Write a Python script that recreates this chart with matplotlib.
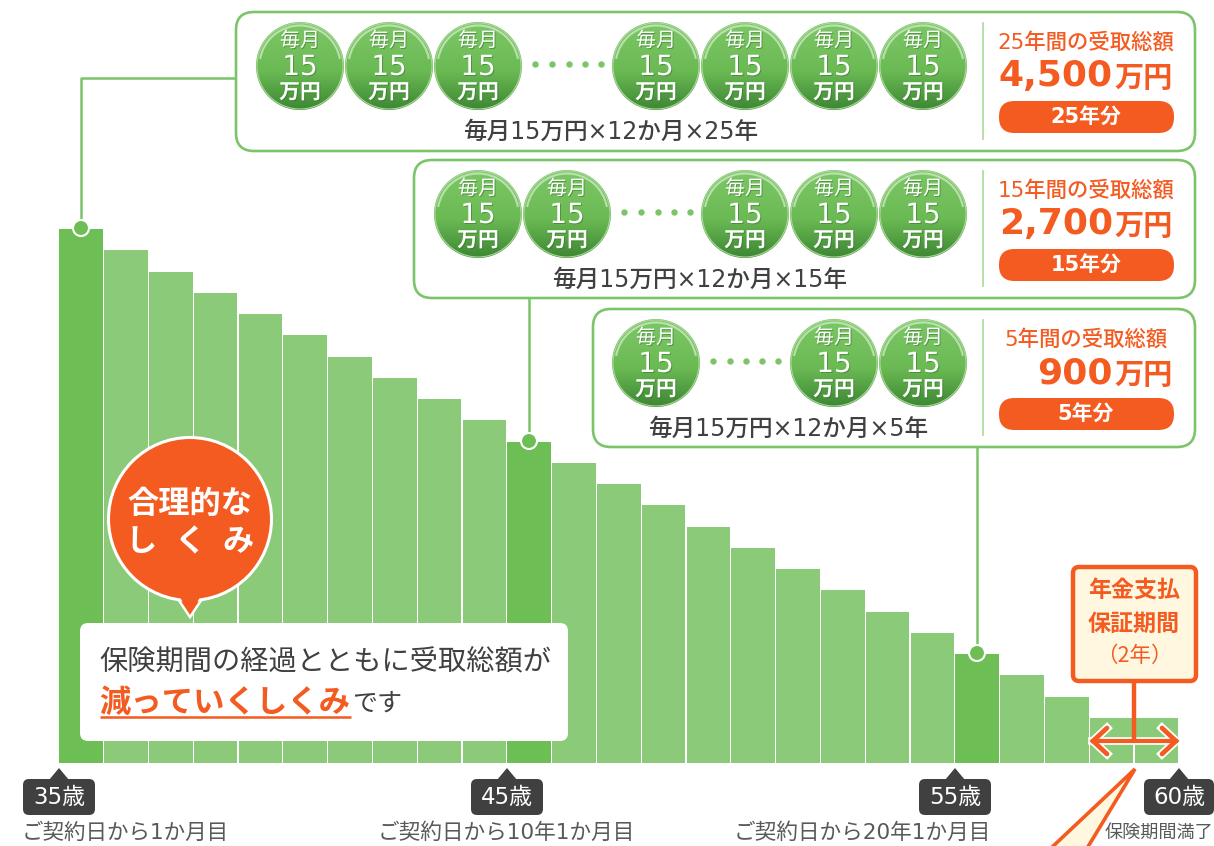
import numpy as np
from matplotlib import pyplot as plt
from matplotlib import patheffects as pe
from matplotlib.patches import Circle, FancyBboxPatch, Polygon, Ellipse, Arc

plt.rcParams['font.family'] = ['Noto Sans CJK JP', 'DejaVu Sans']
# wide latin digits first, kana and kanji fall through to the CJK family
DIGIT_FONT = ['DejaVu Sans', 'Noto Sans CJK JP']

W, H = 1214, 846

# received total (man-yen) left for each contract year
bar_values = [4500, 4320, 4140, 3960, 3780, 3600, 3420, 3240, 3060, 2880, 2700, 2520, 2340,
              2160, 1980, 1800, 1620, 1440, 1260, 1080, 900, 720, 540, 360, 360]
highlight_bars = [0, 10, 20]

plan_years = ["25", "15", "5"]
plan_totals = ["4,500", "2,700", "900"]
age_labels = ["35歳", "45歳", "55歳", "60歳"]
age_notes = ["ご契約日から1か月目", "ご契約日から10年1か月目", "ご契約日から20年1か月目", "保険期間満了"]

GREEN_LINE = "#7CC46A"
DARK_BAR = "#6DBE54"
LIGHT_BAR = "#8BCA78"
ORANGE = "#F45B21"
CREAM = "#FFF7DF"
DARK = "#404040"
GREY = "#595959"

fig = plt.figure(figsize=(W / 100, H / 100), dpi=100)

# bars get their own axes, everything else sits on a pixel-sized overlay
base_y, top_y = 763, 229
ax = fig.add_axes([59 / W, 1 - base_y / H, 1120 / W, (base_y - top_y) / H])
ax.set_xlim(-0.5, len(bar_values) - 0.5)
ax.set_ylim(-22, 4500)
ax.axis("off")
colors = [DARK_BAR if i in highlight_bars else LIGHT_BAR for i in range(len(bar_values))]
ax.bar(np.arange(len(bar_values)) - 0.005, np.array(bar_values) + 22, bottom=-22, width=0.97, color=colors, linewidth=0)

ov = fig.add_axes([0, 0, 1, 1])
ov.patch.set_alpha(0)
ov.axis("off")

grad = np.zeros((100, 1, 3))
stops = np.array([[0.49, 0.78, 0.40], [0.42, 0.73, 0.33], [0.24, 0.53, 0.20]])
for i in range(100):
    t = i / 99
    if t < 0.55:
        grad[i, 0] = stops[0] + (stops[1] - stops[0]) * t / 0.55
    else:
        grad[i, 0] = stops[1] + (stops[2] - stops[1]) * (t - 0.55) / 0.45

shadow = [pe.withSimplePatchShadow(offset=(0.7, -0.7), shadow_rgbFace="#2f6b26", alpha=0.5)]


def rbox(x0, y0, x1, y1, r, **kw):
    p = FancyBboxPatch((x0 + r, y0 + r), x1 - x0 - 2 * r, y1 - y0 - 2 * r,
                       boxstyle="round,pad=%f,rounding_size=%f" % (r, r), **kw)
    ov.add_patch(p)
    return p


def coin(cx, cy, r=44):
    im = ov.imshow(grad, extent=[cx - r, cx + r, cy + r, cy - r], aspect="auto", zorder=3, interpolation="bilinear")
    im.set_clip_path(Circle((cx, cy), r, transform=ov.transData))
    ov.add_patch(Circle((cx, cy), r - 1, fc="none", ec="#A9D99A", lw=0.8, zorder=4))
    ov.add_patch(Arc((cx, cy), 2 * r - 7, 2 * r - 7, theta1=190, theta2=350, ec="#D8EED0", lw=1.5, alpha=0.7, zorder=4))
    ov.text(cx, cy - 25, "毎月", color="white", fontsize=14.5, ha="center", va="center", zorder=5,
            path_effects=shadow)
    ov.text(cx, cy + 1, "15", color="white", fontsize=20, ha="center", va="center", zorder=5, family=DIGIT_FONT,
            path_effects=shadow)
    ov.text(cx, cy + 26, "万円", color="white", fontsize=15, ha="center", va="center", zorder=5, fontweight="bold",
            path_effects=shadow)


def plan(x0, y0, y1, coins, dots, year, total, note_x):
    rbox(x0, y0, 1195, y1, 18, fc="white", ec=GREEN_LINE, lw=1.9, zorder=2)
    ov.plot([983, 983], [y0 + 11, y1 - 12], color="#A9D99A", lw=1.2, zorder=3)
    mid = y0 + 54
    for cx in coins:
        coin(cx, mid)
    ov.plot(dots, [mid - 2] * len(dots), "o", color=GREEN_LINE, ms=4.6, mew=0, zorder=3)
    ov.text(note_x, y0 + 120, "毎月15万円×12か月×%s年" % year, color=DARK, fontsize=17,
            ha="center", va="center", zorder=3, fontweight="medium", family=DIGIT_FONT)
    ov.text(1086, y0 + 30, "%s年間の受取総額" % year, color=ORANGE, fontsize=15.4, ha="center", va="center",
            zorder=3, fontweight="medium", family=DIGIT_FONT)
    ov.text(1113, y0 + 64, total, color=ORANGE, fontsize=26, ha="right", va="center", zorder=3,
            fontweight="bold", family=DIGIT_FONT)
    ov.text(1173, y0 + 66, "万円", color=ORANGE, fontsize=21, ha="right", va="center", zorder=3,
            fontweight="bold")
    rbox(999, y0 + 89, 1174, y0 + 121, 15.5, fc=ORANGE, ec="none", zorder=3)
    ov.text(1086, y0 + 105, "%s年分" % year, color="white", fontsize=15, ha="center", va="center", zorder=4,
            fontweight="bold", family=DIGIT_FONT)


# leader lines from the plan boxes down to the bars
ov.plot([236, 81, 81], [78, 78, 228], color=GREEN_LINE, lw=1.8, zorder=1)
ov.plot([529, 529], [298, 441], color=GREEN_LINE, lw=1.8, zorder=1)
ov.plot([977, 977], [447, 653], color=GREEN_LINE, lw=1.8, zorder=1)
for x, y in [(81, 228), (529, 441), (977, 653)]:
    ov.add_patch(Circle((x, y), 8, fc=DARK_BAR, ec="white", lw=1.5, zorder=2))

plan(236, 12, 151, [300, 389, 478, 656, 745, 834, 923], [535, 552, 569, 585, 601], plan_years[0], plan_totals[0], 611)
plan(414, 160, 298, [478, 567, 745, 834, 923], [624, 641, 658, 674, 690], plan_years[1], plan_totals[1], 700)
plan(593, 309, 447, [656, 834, 923], [713, 730, 746, 762, 778], plan_years[2], plan_totals[2], 788)

# speech bubble and the white message box
ov.add_patch(Polygon([[176, 596], [204, 596], [190, 617]], fc=ORANGE, ec="white", lw=1.8, zorder=5, joinstyle="miter"))
ov.add_patch(Ellipse((190, 519), 163, 163, fc=ORANGE, ec="white", lw=2.2, zorder=5))
ov.add_patch(Polygon([[178, 594], [202, 594], [190, 614]], fc=ORANGE, ec="none", zorder=6))
ov.text(190, 504, "合理的な", color="white", fontsize=22.5, ha="center", va="center", zorder=7, fontweight="bold")
for ch, x in zip("しくみ", [141, 190, 238]):
    ov.text(x, 542, ch, color="white", fontsize=22.5, ha="center", va="center", zorder=7, fontweight="bold")

rbox(80, 623, 568, 741, 8, fc="white", ec="none", zorder=5)
ov.text(99, 662, "保険期間の経過とともに受取総額が", color=DARK, fontsize=20.3, ha="left", va="center", zorder=6)
ov.text(99, 703, "減っていくしくみ", color=ORANGE, fontsize=22.6, ha="left", va="center", zorder=6, fontweight="bold")
ov.text(352, 704, "です", color=DARK, fontsize=18, ha="left", va="center", zorder=6)
ov.plot([100, 351], [717, 717], color=ORANGE, lw=1.8, zorder=6, solid_capstyle="butt")

# age tags under the axis
tag_x = [59, 507, 955, 1179]
tag_box = [(23, 95), (471, 543), (919, 991), (1144, 1214)]
note_box = [(23, 227), (379, 634), (735, 990), (1105, 1213)]
note_size = [15.5, 15.6, 15.6, 13.1]
for i in range(4):
    ov.add_patch(Polygon([[tag_x[i] - 10, 780], [tag_x[i] + 10, 780], [tag_x[i], 768]], fc=DARK, ec="none", zorder=3))
    rbox(tag_box[i][0], 779, tag_box[i][1], 815, 6, fc=DARK, ec="none", zorder=3)
    ov.text(sum(tag_box[i]) / 2, 797, age_labels[i], color="white", fontsize=16.5, ha="center", va="center", zorder=4,
            family=DIGIT_FONT)
    ov.text(sum(note_box[i]) / 2, 833, age_notes[i], color=GREY, fontsize=note_size[i], ha="center", va="center",
            zorder=4, family=DIGIT_FONT)

# guarantee period callout
ov.plot([1134, 1134], [681, 741], color=ORANGE, lw=3.2, zorder=5, solid_capstyle="butt")
ov.plot([1092, 1177], [741, 741], color="white", lw=5.5, zorder=4)
for xs in ([1107, 1093, 1107], [1162, 1176, 1162]):
    ov.plot(xs, [728, 741, 754], color="white", lw=6, zorder=4)
    ov.plot(xs, [728, 741, 754], color=ORANGE, lw=3.4, zorder=5, solid_capstyle="round", solid_joinstyle="miter")
ov.plot([1093, 1176], [741, 741], color=ORANGE, lw=3, zorder=5)

rbox(1073, 567, 1196, 681, 6, fc=CREAM, ec=ORANGE, lw=3.2, zorder=6)
ov.text(1134, 591, "年金支払", color=ORANGE, fontsize=16.6, ha="center", va="center", zorder=7, fontweight="bold")
ov.text(1134, 624, "保証期間", color=ORANGE, fontsize=16.6, ha="center", va="center", zorder=7, fontweight="bold")
ov.text(1134, 656, "（2年）", color=ORANGE, fontsize=15.5, ha="center", va="center", zorder=7)

ov.add_patch(Polygon([[1135, 769], [1049, 850], [1086, 850]], fc=CREAM, ec=ORANGE, lw=2.6, zorder=3, joinstyle="miter"))

ov.set_xlim(0, W)
ov.set_ylim(H, 0)

fig.savefig("out.png", dpi=100)
